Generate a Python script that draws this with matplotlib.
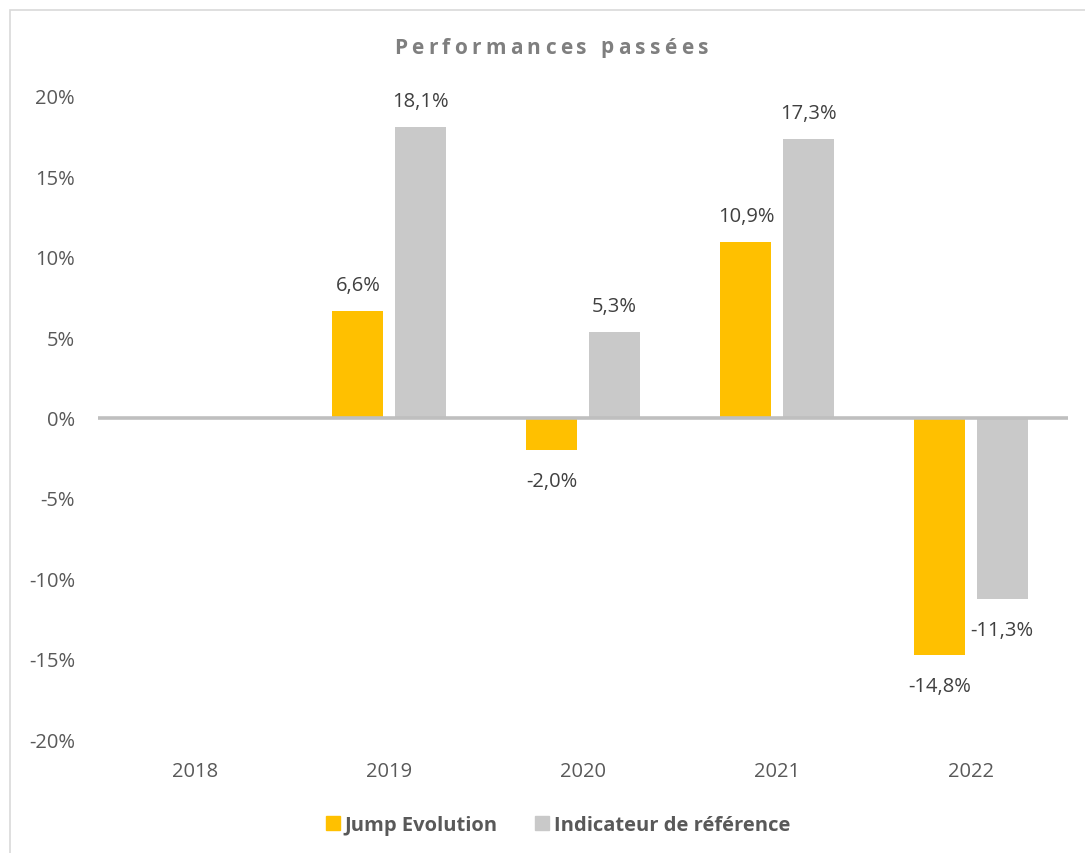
import numpy as np
import matplotlib.pyplot as plt
from matplotlib.patches import Rectangle
from matplotlib.lines import Line2D
from matplotlib.textpath import TextToPath
from matplotlib.font_manager import FontProperties

# data
years = ["2018", "2019", "2020", "2021", "2022"]
jump = [np.nan, 6.6, -2.0, 10.9, -14.8]
indic = [np.nan, 18.1, 5.3, 17.3, -11.3]
series_names = ["Jump Evolution", "Indicateur de référence"]
yticks = [-20, -15, -10, -5, 0, 5, 10, 15, 20]

YELLOW = "#FFC000"
GREY = "#C9C9C9"
TXT = "#595959"
LBL = "#404040"
FONT = ["Open Sans", "DejaVu Sans"]
W, H = 1085, 854

plt.rcParams["font.family"] = FONT

fig = plt.figure(figsize=(W / 100, H / 100), dpi=100)
ax = fig.add_axes([98 / W, 1 - 740 / H, 970 / W, 643 / H])

x = np.arange(len(years))
off, w = 0.16, 0.263
ax.bar(x - off, jump, width=w, color=YELLOW, zorder=2)
ax.bar(x + off, indic, width=w, color=GREY, zorder=2)
ax.axhline(0, color="#BFBFBF", linewidth=2.6, zorder=3)

ax.set_xlim(-0.5, len(years) - 0.5)
ax.set_ylim(-20, 20)
ax.set_yticks(yticks)
ax.set_yticklabels([f"{v}%" for v in yticks])
ax.set_xticks(x)
ax.set_xticklabels(years)
ax.tick_params(axis="both", length=0, labelsize=14.5, colors=TXT)
ax.tick_params(axis="y", pad=16.5)
ax.tick_params(axis="x", pad=16)
for s in ax.spines.values():
    s.set_visible(False)

def fmt(v):
    return f"{v:.1f}%".replace(".", ",")

for xs, vals in ((x - off, jump), (x + off, indic)):
    for xi, v in zip(xs, vals):
        if np.isnan(v):
            continue
        dy = 26 if v >= 0 else -31
        ax.annotate(fmt(v), (xi, v), xytext=(0, dy), textcoords="offset pixels",
                    ha="center", va="center", fontsize=14.5, color=LBL)

# title, spaced out letter by letter (advance measured with a trailing 'l')
title = "Performances passées"
tsize, track = 15, 4.3
fp = FontProperties(family=FONT, weight="bold", size=tsize)
t2p = TextToPath()
def width_px(s):
    return t2p.get_text_width_height_descent(s, fp, ismath=False)[0] * 100 / 72
lw = width_px("l")
starts = [width_px(title[:i] + "l") - lw if i else 0.0 for i in range(len(title))]
starts = [s0 + track * i for i, s0 in enumerate(starts)]
total = starts[-1] + width_px(title[-1])
cx = 551 - total / 2
for ch, s0 in zip(title, starts):
    if ch == " ":
        continue
    fig.text((cx + s0) / W, 1 - 48 / H, ch, ha="left", va="center", fontsize=tsize,
             fontweight="bold", color="#7F7F7F")

# legend
handles = [Line2D([], [], marker="s", linestyle="none", markersize=10,
                  markerfacecolor=c, markeredgecolor=c) for c in (YELLOW, GREY)]
leg = fig.legend(handles, series_names, loc="center", bbox_to_anchor=(558 / W, 1 - 826 / H),
                 ncol=2, frameon=False, handlelength=0.7, handletextpad=0.25,
                 columnspacing=1.85, prop={"family": FONT, "weight": "bold", "size": 14.5})
for t in leg.get_texts():
    t.set_color(TXT)

# chart frame (left and top edges visible)
fig.patches.append(Rectangle((9.5 / W, -0.1), 1.2, 1.1 - 10.5 / H,
                             transform=fig.transFigure, fill=False,
                             edgecolor="#D9D9D9", linewidth=1.2))

fig.savefig("out.png", dpi=100, facecolor="white")
